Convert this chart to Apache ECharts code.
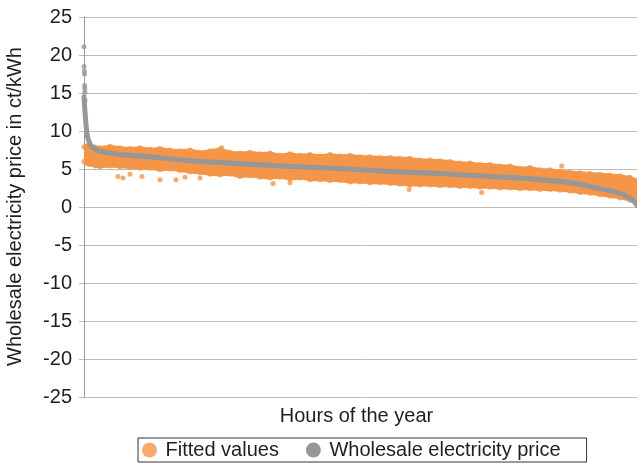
<!DOCTYPE html>
<html>
<head>
<meta charset="utf-8">
<title>Price duration curve and fitted values</title>
<script src="https://cdn.jsdelivr.net/npm/echarts@6/dist/echarts.min.js"></script>
<style>
  html, body { margin: 0; padding: 0; background: #ffffff; }
  #chart { width: 637px; height: 467px; }
</style>
</head>
<body>
<div id="chart"></div>
<script>
// Hours of the year (sorted by price), envelope of the fitted-value cloud
var fitHours = [0, 48, 95, 174, 253, 412, 570, 729, 887, 1046, 1204, 1362, 1521, 1679, 1838,
  1996, 2154, 2313, 2471, 2630, 2788, 2946, 3105, 3263, 3422, 3580, 3739, 3897, 4055, 4214,
  4372, 4531, 4689, 4847, 5006, 5164, 5323, 5481, 5639, 5798, 5956, 6114, 6273, 6431, 6590,
  6748, 6907, 7065, 7223, 7382, 7540, 7699, 7857, 8015, 8174, 8332, 8490, 8649, 8760];
var fitUpper = [7.9, 8.1, 7.8, 7.9, 7.8, 8.0, 7.8, 7.7, 7.8, 7.6, 7.7, 7.5, 7.4, 7.5, 7.2,
  7.4, 7.6, 7.2, 7.1, 7.2, 7.0, 7.1, 6.8, 7.0, 6.8, 6.9, 6.7, 6.9, 6.7, 6.8,
  6.6, 6.6, 6.5, 6.5, 6.4, 6.4, 6.2, 6.2, 6.1, 6.0, 5.8, 5.8, 5.6, 5.6, 5.4,
  5.4, 5.1, 5.2, 4.9, 4.9, 4.7, 4.6, 4.5, 4.4, 4.3, 4.2, 4.1, 3.9, 3.5];
var fitLower = [6.0, 5.7, 5.6, 5.4, 5.3, 5.4, 5.3, 5.2, 5.1, 5.1, 4.9, 5.0, 4.8, 4.6, 4.5,
  4.3, 4.2, 4.3, 4.0, 4.1, 3.9, 3.8, 3.9, 3.7, 3.8, 3.6, 3.6, 3.5, 3.5, 3.3,
  3.3, 3.2, 3.2, 3.1, 3.0, 2.9, 2.9, 2.9, 2.8, 2.8, 2.7, 2.7, 2.6, 2.6, 2.5,
  2.5, 2.4, 2.4, 2.3, 2.3, 2.2, 2.1, 1.9, 1.8, 1.6, 1.4, 1.2, 0.9, 0.5];

// Isolated fitted values lying outside the main cloud: [hour, ct/kWh]
var fitOutliers = [[539, 4.0], [618, 3.8], [729, 4.3], [919, 4.0], [1204, 3.6], [1457, 3.6],
  [1600, 3.9], [1838, 3.8], [2183, 7.8], [2995, 3.1], [3263, 3.2], [5150, 2.3],
  [6300, 1.9], [7567, 5.4]];

// Wholesale price duration curve: [hour, ct/kWh]
var priceCurve = [[0, 14.5], [16, 12.5], [32, 10.8], [48, 9.6], [63, 9.0], [95, 8.3],
  [130, 7.9], [174, 7.6], [253, 7.3], [400, 7.1], [570, 6.9], [800, 6.75], [1046, 6.6],
  [1280, 6.4], [1521, 6.2], [1838, 6.0], [2154, 5.85], [2471, 5.7], [2788, 5.55],
  [3105, 5.4], [3422, 5.28], [3739, 5.15], [4055, 5.05], [4372, 4.9], [4689, 4.75],
  [5006, 4.6], [5323, 4.5], [5639, 4.4], [5956, 4.25], [6273, 4.1], [6590, 3.95],
  [6907, 3.8], [7223, 3.6], [7540, 3.4], [7857, 3.0], [8174, 2.4], [8330, 2.15],
  [8490, 1.8], [8600, 1.4], [8680, 1.0], [8730, 0.6], [8760, 0.2]];
// Highest-price hours at the top of the curve
var pricePeaks = [[0, 21.1], [0, 18.5], [6, 17.9], [8, 17.5], [10, 16.0], [12, 15.6],
  [14, 15.1], [16, 14.0]];

var yTicks = { min: -25, max: 25, step: 5 };

var ORANGE = '#F59547';
var GREY = '#979797';
var TEXT = '#1e1e1e';
var FONT = '"Liberation Sans", Arial, sans-serif';

var upperPoints = fitHours.map(function (h, i) { return [h, fitUpper[i]]; });
var lowerPoints = fitHours.map(function (h, i) { return [h, fitLower[i]]; });

// Filled cloud between the upper and lower envelope, projected through the axes
function renderCloud(params, api) {
  var pts = [];
  var i;
  for (i = 0; i < fitHours.length; i++) {
    pts.push(api.coord([fitHours[i], fitUpper[i]]));
  }
  for (i = fitHours.length - 1; i >= 0; i--) {
    pts.push(api.coord([fitHours[i], fitLower[i]]));
  }
  return {
    type: 'polygon',
    shape: { points: pts },
    style: { fill: ORANGE, stroke: ORANGE, lineWidth: 3, lineJoin: 'round' }
  };
}

var chart = echarts.init(document.getElementById('chart'), null, { renderer: 'canvas' });
chart.setOption({
  animation: false,
  backgroundColor: '#ffffff',
  textStyle: { fontFamily: FONT },
  grid: { left: 84, right: 0, top: 17, bottom: 70, containLabel: false },
  xAxis: {
    type: 'value',
    min: 0,
    max: 8760,
    name: 'Hours of the year',
    nameLocation: 'middle',
    nameGap: 9,
    nameTextStyle: { fontSize: 20, color: TEXT, fontFamily: FONT, verticalAlign: 'top',
      lineHeight: 20, padding: [0, 8, 0, 0] },
    axisLine: { show: false },
    axisTick: { show: false },
    axisLabel: { show: false },
    splitLine: { show: false }
  },
  yAxis: {
    type: 'value',
    min: yTicks.min,
    max: yTicks.max,
    interval: yTicks.step,
    axisLine: { show: true, lineStyle: { color: '#9a9a9a', width: 1 } },
    axisTick: { show: true, length: 5, lineStyle: { color: '#bcbcbc' } },
    axisLabel: { fontSize: 20, color: TEXT, fontFamily: FONT, margin: 12 },
    splitLine: { show: true, lineStyle: { color: '#bcbcbc', width: 1 } }
  },
  legend: {
    left: 138,
    top: 438,
    orient: 'horizontal',
    selectedMode: false,
    borderColor: '#333333',
    borderWidth: 1,
    padding: [2, 26, 2, 4],
    itemGap: 27,
    itemWidth: 22,
    itemHeight: 15,
    symbolKeepAspect: true,
    textStyle: { fontSize: 20, color: TEXT, fontFamily: FONT, lineHeight: 20 },
    data: [
      { name: 'Fitted values', icon: 'circle', itemStyle: { color: ORANGE } },
      { name: 'Wholesale electricity price', icon: 'circle', itemStyle: { color: GREY } }
    ]
  },
  graphic: [{
    type: 'text',
    x: 15,
    y: 206.5,
    rotation: Math.PI / 2,
    style: {
      text: 'Wholesale electricity price in ct/kWh',
      font: '20px ' + FONT,
      fill: TEXT,
      align: 'center',
      verticalAlign: 'middle'
    }
  }],
  series: [
    {
      name: 'Fitted values',
      type: 'scatter',
      data: upperPoints.concat(lowerPoints, fitOutliers),
      symbol: 'circle',
      symbolSize: 5,
      itemStyle: { color: ORANGE },
      z: 2
    },
    {
      name: 'Fitted values',
      type: 'custom',
      data: [0],
      renderItem: renderCloud,
      itemStyle: { color: ORANGE },
      clip: true,
      z: 1
    },
    {
      name: 'Wholesale electricity price',
      type: 'line',
      data: priceCurve,
      color: GREY,
      showSymbol: false,
      lineStyle: { color: GREY, width: 5, cap: 'round', join: 'round' },
      z: 3
    },
    {
      name: 'Wholesale electricity price',
      type: 'scatter',
      data: pricePeaks,
      symbol: 'circle',
      symbolSize: 5,
      itemStyle: { color: GREY },
      z: 3
    }
  ]
});
</script>
</body>
</html>
